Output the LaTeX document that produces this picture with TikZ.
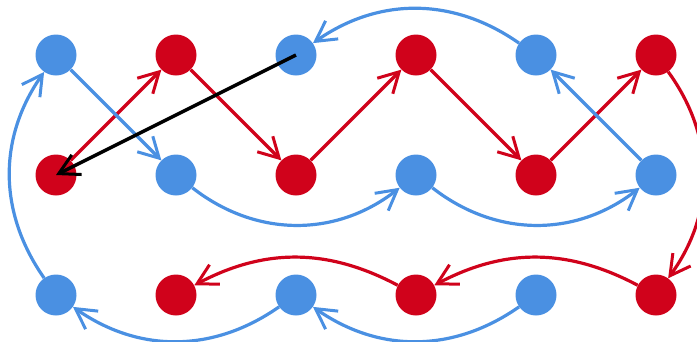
\documentclass[tikz,border=0pt]{standalone}
\usetikzlibrary{arrows.meta}
\definecolor{cblue}{HTML}{4A90E2}
\definecolor{cred}{HTML}{D0021B}
\begin{document}
\begin{tikzpicture}[x=1pt,y=-1pt,
  dot/.style={circle,minimum size=41pt,inner sep=0pt,fill=#1},
  tip/.style={-{Straight Barb[length=20pt,width=22pt,line width=3pt]}},
  bl/.style={draw=cblue,line width=3.2pt,tip},
  rd/.style={draw=cred,line width=3.2pt,tip}]
\useasboundingbox (0,0) rectangle (697,341);
% row 1
\node[dot=cblue] (a1) at (56,55) {};
\node[dot=cred]  (a2) at (176,55) {};
\node[dot=cblue] (a3) at (296,55) {};
\node[dot=cred]  (a4) at (416,55) {};
\node[dot=cblue] (a5) at (536,55) {};
\node[dot=cred]  (a6) at (656,55) {};
% row 2
\node[dot=cred]  (b1) at (56,175) {};
\node[dot=cblue] (b2) at (176,175) {};
\node[dot=cred]  (b3) at (296,175) {};
\node[dot=cblue] (b4) at (416,175) {};
\node[dot=cred]  (b5) at (536,175) {};
\node[dot=cblue] (b6) at (656,175) {};
% row 3
\node[dot=cblue] (c1) at (56,295) {};
\node[dot=cred]  (c2) at (176,295) {};
\node[dot=cblue] (c3) at (296,295) {};
\node[dot=cred]  (c4) at (416,295) {};
\node[dot=cblue] (c5) at (536,295) {};
\node[dot=cred]  (c6) at (656,295) {};
% red path
\draw[rd] (b1) -- (a2);
\draw[rd] (a2) -- (b3);
\draw[rd] (b3) -- (a4);
\draw[rd] (a4) -- (b5);
\draw[rd] (b5) -- (a6);
\draw[rd] (a6) to[bend left=36] (c6);
\draw[rd] (c6) to[bend right=28] (c4);
\draw[rd] (c4) to[bend right=28] (c2);
% blue path
\draw[bl] (a1) -- (b2);
\draw[bl] (b2) to[bend right=38] (b4);
\draw[bl] (b4) to[bend right=38] (b6);
\draw[bl] (b6) -- (a5);
\draw[bl] (a5) to[bend right=35] (a3);
\draw[bl] (c5) to[bend left=35] (c3);
\draw[bl] (c3) to[bend left=35] (c1);
\draw[bl] (c1) to[bend left=35] (a1);
% black arrow
\draw[line width=3.5pt,-{Straight Barb[length=20pt,width=22pt,line width=3pt]}] (a3.center) -- (b1.center);
\end{tikzpicture}
\end{document}
